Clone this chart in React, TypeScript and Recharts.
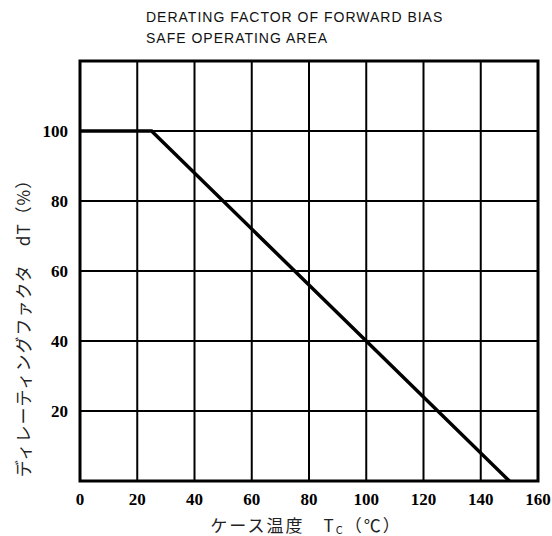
import { CartesianGrid, Line, LineChart, ReferenceArea, XAxis, YAxis } from 'recharts';

const caseTemp = [0, 25, 150];
const deratingFactor = [100, 100, 0];
const xTicks = [0, 20, 40, 60, 80, 100, 120, 140, 160];
const yTicks = [20, 40, 60, 80, 100];
const titleLines = ['DERATING FACTOR OF FORWARD BIAS', 'SAFE OPERATING AREA'];

const data = caseTemp.map((t, i) => ({ t, dT: deratingFactor[i] }));

const tickStyle = { fill: '#000', fontFamily: '"Liberation Serif", serif', fontWeight: 700, fontSize: 17 };

export default function App() {
  return (
    <div style={{ position: 'fixed', left: 0, top: 0, width: 552, height: 536, background: '#fff', overflow: 'hidden' }}>
      <div style={{ position: 'absolute', left: 146, top: 7, fontFamily: '"Liberation Sans", sans-serif', fontSize: 14, lineHeight: '21px', letterSpacing: 1, color: '#111' }}>
        {titleLines.map((line) => <div key={line}>{line}</div>)}
      </div>
      <LineChart width={552} height={536} data={data} margin={{ top: 61, right: 14, bottom: 25, left: 20 }}>
        <CartesianGrid stroke="#000" strokeWidth={2} />
        <XAxis dataKey="t" type="number" domain={[0, 160]} ticks={xTicks} height={30} axisLine={false} tickLine={false} tickMargin={6} tick={tickStyle} interval={0} />
        <YAxis type="number" domain={[0, 120]} ticks={yTicks} width={60} axisLine={false} tickLine={false} tickMargin={6} tick={tickStyle} interval={0} />
        <ReferenceArea x1={0} x2={160} y1={0} y2={120} fill="none" stroke="#000" strokeWidth={3} />
        <Line dataKey="dT" stroke="#000" strokeWidth={3.5} dot={false} isAnimationActive={false} />
      </LineChart>
      <div style={{ position: 'absolute', left: 0, width: 612, top: 516, textAlign: 'center', fontFamily: '"Noto Sans CJK JP", serif', fontSize: 17, lineHeight: 1, letterSpacing: 2, color: '#222' }}>
        ケース温度　T<sub style={{ fontSize: 11, lineHeight: 1, verticalAlign: '-2px' }}>C</sub>（℃）
      </div>
      <div style={{ position: 'absolute', left: 22, top: 324, width: 0, height: 0 }}>
        <div style={{ position: 'absolute', transform: 'translate(-50%, -50%) rotate(-90deg)', whiteSpace: 'nowrap', fontFamily: '"Noto Sans CJK JP", serif', fontSize: 17, lineHeight: 1, letterSpacing: 1, color: '#222' }}>
          ディレーティングファクタ　dT（%）
        </div>
      </div>
    </div>
  );
}
